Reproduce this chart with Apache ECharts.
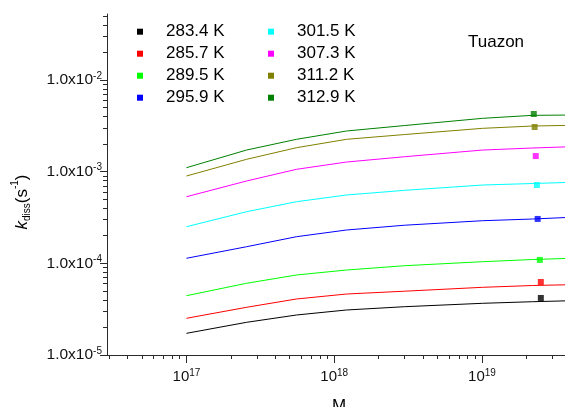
<!DOCTYPE html>
<html><head><meta charset="utf-8">
<script src="https://cdn.jsdelivr.net/npm/echarts@6/dist/echarts.min.js"></script>
<style>html,body{margin:0;padding:0;background:#fff}#c{width:565px;height:407px}</style>
</head><body><div id="c"></div>
<script>
// ---- data ----
const temps = ['283.4 K', '285.7 K', '289.5 K', '295.9 K', '301.5 K', '307.3 K', '311.2 K', '312.9 K'];
const colors = ['#000000', '#ff0000', '#00ff00', '#0000ff', '#00ffff', '#ff00ff', '#808000', '#008000'];

// M values for the fitted curves
const fitM = [1e17, 2.55e17, 5.55e17, 1.21e18, 3.0e18, 1.01e19, 2.2e19, 4e19];
const fit283 = [1.724e-5, 2.273e-5, 2.731e-5, 3.097e-5, 3.365e-5, 3.664e-5, 3.814e-5, 3.91e-5];
const fit285 = [2.514e-5, 3.314e-5, 4.083e-5, 4.627e-5, 4.966e-5, 5.476e-5, 5.73e-5, 5.85e-5];
const fit289 = [4.435e-5, 6.057e-5, 7.46e-5, 8.455e-5, 9.42e-5, 1.042e-4, 1.101e-4, 1.135e-4];
const fit295 = [1.135e-4, 1.518e-4, 1.952e-4, 2.31e-4, 2.606e-4, 2.918e-4, 3.045e-4, 3.178e-4];
const fit301 = [2.509e-4, 3.658e-4, 4.70e-4, 5.565e-4, 6.26e-4, 7.15e-4, 7.43e-4, 7.65e-4];
const fit307 = [5.33e-4, 7.91e-4, 1.061e-3, 1.274e-3, 1.456e-3, 1.722e-3, 1.812e-3, 1.872e-3];
const fit311 = [8.97e-4, 1.364e-3, 1.826e-3, 2.254e-3, 2.543e-3, 2.972e-3, 3.148e-3, 3.204e-3];
const fit312 = [1.105e-3, 1.722e-3, 2.254e-3, 2.777e-3, 3.188e-3, 3.82e-3, 4.118e-3, 4.15e-3];
const fits = [fit283, fit285, fit289, fit295, fit301, fit307, fit311, fit312];

// measured points (Tuazon)
const expM = [2.5e19, 2.5e19, 2.46e19, 2.38e19, 2.35e19, 2.31e19, 2.27e19, 2.24e19];
const expK = [4.19e-5, 6.26e-5, 1.09e-4, 3.05e-4, 7.16e-4, 1.48e-3, 3.07e-3, 4.26e-3];

// axes
const xMin = 2.9e16, xMax = 4e19;
const yMin = 1e-5, yMax = 5.25e-2;
const xMajorTicks = [1e17, 1e18, 1e19];
const xMinorTicks = [3e16, 4e16, 5e16, 6e16, 7e16, 8e16, 9e16,
  2e17, 3e17, 4e17, 5e17, 6e17, 7e17, 8e17, 9e17,
  2e18, 3e18, 4e18, 5e18, 6e18, 7e18, 8e18, 9e18,
  2e19, 3e19];
const yMajorTicks = [1e-5, 1e-4, 1e-3, 1e-2];
const yMinorTicks = [2e-5, 3e-5, 4e-5, 5e-5, 6e-5, 7e-5, 8e-5, 9e-5,
  2e-4, 3e-4, 4e-4, 5e-4, 6e-4, 7e-4, 8e-4, 9e-4,
  2e-3, 3e-3, 4e-3, 5e-3, 6e-3, 7e-3, 8e-3, 9e-3,
  2e-2, 3e-2, 4e-2, 5e-2];

const FONT = '"Liberation Sans", Arial, sans-serif';
const AX = '#2a2a2a';

const series = [];
temps.forEach((t, i) => {
  series.push({
    type: 'line', name: t, xAxisIndex: 0, yAxisIndex: 0,
    data: fitM.map((m, j) => [m, fits[i][j]]),
    symbol: 'none', smooth: false,
    lineStyle: { width: 1, color: colors[i] },
    itemStyle: { color: colors[i] },
    z: 2
  });
  series.push({
    type: 'scatter', name: t, xAxisIndex: 0, yAxisIndex: 0,
    data: [[expM[i], expK[i]]],
    symbol: 'rect', symbolSize: 6,
    itemStyle: { color: colors[i] },
    z: 3
  });
});

const legendBase = {
  orient: 'vertical', icon: 'rect', itemWidth: 6, itemHeight: 6, itemGap: 0,
  padding: 0, top: 20.7, selectedMode: false,
  textStyle: { fontFamily: FONT, fontSize: 17, color: '#000', lineHeight: 22, padding: [0, 0, 0, 18] }
};

const chart = echarts.init(document.getElementById('c'), null, { renderer: 'canvas' });
chart.setOption({
  animation: false,
  backgroundColor: '#fff',
  grid: { left: 107, right: -6, top: 14, bottom: 52, containLabel: false, outerBoundsMode: 'none' },
  legend: [
    Object.assign({}, legendBase, { left: 137, data: temps.slice(0, 4) }),
    Object.assign({}, legendBase, { left: 268, data: temps.slice(4) })
  ],
  xAxis: [
    {
      type: 'log', min: xMin, max: xMax, position: 'bottom',
      name: 'M', nameLocation: 'middle', nameGap: 43,
      nameTextStyle: { fontFamily: FONT, fontSize: 17, color: '#000' },
      axisLine: { show: true, lineStyle: { color: AX, width: 1 } },
      axisTick: { show: true, inside: false, length: 8, customValues: xMajorTicks, lineStyle: { color: AX } },
      splitLine: { show: false },
      axisLabel: {
        customValues: xMajorTicks, margin: 13,
        formatter: v => '{m|10}{s|' + Math.round(Math.log10(v)) + '}',
        rich: {
          m: { fontFamily: FONT, fontSize: 15, color: '#111' },
          s: { fontFamily: FONT, fontSize: 10, color: '#111', padding: [0, 0, 7, 0] }
        }
      }
    },
    {
      type: 'log', min: xMin, max: xMax, position: 'bottom', offset: 0,
      axisLine: { show: false },
      axisTick: { show: true, inside: false, length: 4, customValues: xMinorTicks, lineStyle: { color: AX } },
      axisLabel: { show: false }, splitLine: { show: false }
    }
  ],
  yAxis: [
    {
      type: 'log', min: yMin, max: yMax, position: 'left',
      axisLine: { show: true, lineStyle: { color: AX, width: 1 } },
      axisTick: { show: true, inside: false, length: 7, customValues: yMajorTicks, lineStyle: { color: AX } },
      splitLine: { show: false },
      axisLabel: {
        customValues: yMajorTicks, margin: 5,
        formatter: v => '{m|1.0x10}{s|' + Math.round(Math.log10(v)) + '}',
        rich: {
          m: { fontFamily: FONT, fontSize: 15.5, color: '#111' },
          s: { fontFamily: FONT, fontSize: 10, color: '#111', padding: [0, 0, 8, 0] }
        }
      }
    },
    {
      type: 'log', min: yMin, max: yMax, position: 'left', offset: 0,
      axisLine: { show: false },
      axisTick: { show: true, inside: false, length: 4, customValues: yMinorTicks, lineStyle: { color: AX } },
      axisLabel: { show: false }, splitLine: { show: false }
    }
  ],
  graphic: [
    {
      type: 'text', x: 496, y: 42,
      style: { text: 'Tuazon', fontFamily: FONT, fontSize: 17, fill: '#000', align: 'center', verticalAlign: 'middle' }
    },
    {
      type: 'text', x: 22, y: 202, rotation: Math.PI / 2,
      style: {
        text: '{k|k}{d|diss}{p|(s}{e|-1}{p|)}',
        align: 'center', verticalAlign: 'middle',
        rich: {
          k: { fontFamily: FONT, fontSize: 17, fontStyle: 'italic', fill: '#000' },
          d: { fontFamily: FONT, fontSize: 10, fill: '#000', padding: [10, 0, 0, 0] },
          p: { fontFamily: FONT, fontSize: 17, fill: '#000' },
          e: { fontFamily: FONT, fontSize: 10, fill: '#000', padding: [0, 0, 14, 0] }
        }
      }
    }
  ],
  series: series
});
</script>
</body></html>
